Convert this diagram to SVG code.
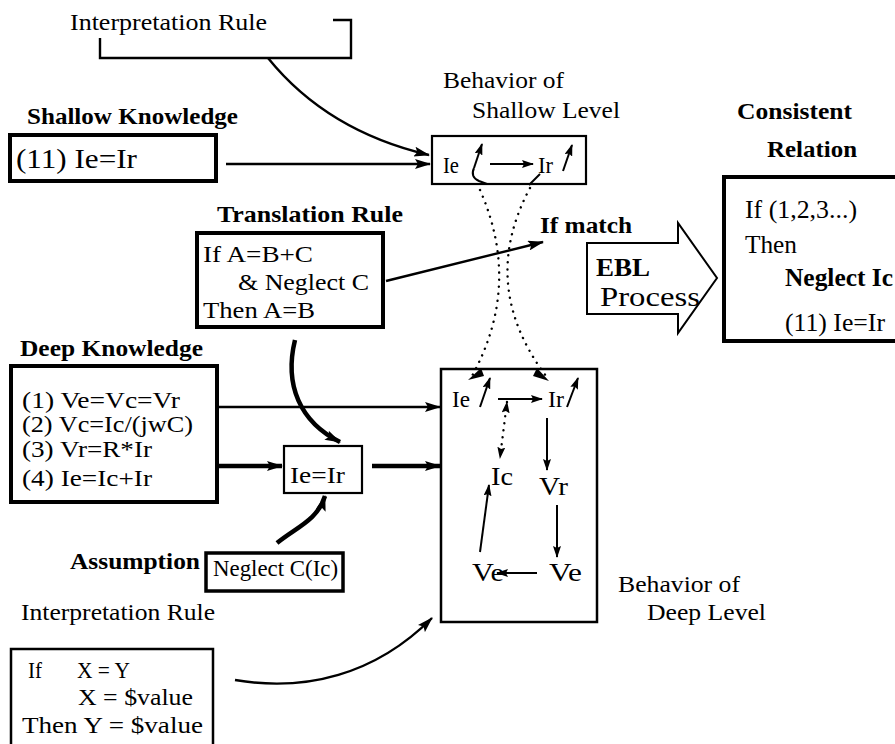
<svg xmlns="http://www.w3.org/2000/svg" width="895" height="744" viewBox="0 0 895 744">
  <style>
    text { font-family: "Liberation Serif", "Times New Roman", serif; font-size: 23px; fill: #000; }
    .b { font-weight: bold; }
    .big { font-size: 28px; }
    .mid { font-size: 26px; }
    .node { font-size: 26px; }
    .box { fill: #fff; stroke: #000; }
    .thick { stroke-width: 4; }
    .thin { stroke-width: 2.2; }
    .ln { fill: none; stroke: #000; stroke-width: 2.4; }
    .heavy { fill: none; stroke: #000; stroke-width: 4.5; }
    .sm { fill: none; stroke: #000; stroke-width: 2; }
    .dot { fill: none; stroke: #000; stroke-width: 2.4; stroke-dasharray: 0.1 7; stroke-linecap: round; }
  </style>
  <defs>
    <marker id="ah" viewBox="0 0 16 10" refX="15" refY="5" markerWidth="16" markerHeight="10" markerUnits="userSpaceOnUse" orient="auto">
      <path d="M0,0 L16,5 L0,10 L3,5 z"/>
    </marker>
    <marker id="ahs" viewBox="0 0 12 8" refX="11" refY="4" markerWidth="12" markerHeight="8" markerUnits="userSpaceOnUse" orient="auto">
      <path d="M0,0 L12,4 L0,8 L2,4 z"/>
    </marker>
    <marker id="ahs0" viewBox="0 0 12 8" refX="1" refY="4" markerWidth="12" markerHeight="8" markerUnits="userSpaceOnUse" orient="auto">
      <path d="M12,0 L0,4 L12,8 L10,4 z"/>
    </marker>
  </defs>

  <!-- upper interpretation rule with its bracket -->
  <g id="interp-top">
    <text x="70" y="30" textLength="197" lengthAdjust="spacingAndGlyphs">Interpretation Rule</text>
    <path class="ln" d="M100,38 V58 H351 V20 H333"/>
  </g>

  <g id="shallow-knowledge">
    <text class="b" x="27" y="124" textLength="211" lengthAdjust="spacingAndGlyphs">Shallow Knowledge</text>
    <rect class="box thick" x="10" y="135" width="206" height="46"/>
    <text class="big" x="16" y="168" textLength="121" lengthAdjust="spacingAndGlyphs">(11) Ie=Ir</text>
  </g>

  <g id="shallow-behavior">
    <text x="443" y="88" textLength="121" lengthAdjust="spacingAndGlyphs">Behavior of</text>
    <text x="472" y="118" textLength="148" lengthAdjust="spacingAndGlyphs">Shallow Level</text>
    <rect class="box thin" x="432" y="136" width="154" height="48"/>
    <text x="443" y="173" textLength="16" lengthAdjust="spacingAndGlyphs">Ie</text>
    <text x="538" y="173" textLength="15" lengthAdjust="spacingAndGlyphs">Ir</text>
    <path class="sm" d="M474,168 L482,144" marker-end="url(#ahs)"/>
    <path class="sm" d="M490,164 L533,164" marker-end="url(#ahs)"/>
    <path class="sm" d="M563,171 L572,145" marker-end="url(#ahs)"/>
    <path class="sm" d="M474,168 Q470,177 479,181 L487,184"/>
    <path class="sm" d="M529,185 L540,174"/>
  </g>

  <g id="translation-rule">
    <text class="b" x="217" y="222" textLength="186" lengthAdjust="spacingAndGlyphs">Translation Rule</text>
    <rect class="box thick" x="197" y="233" width="186" height="94"/>
    <text x="203" y="262" textLength="110" lengthAdjust="spacingAndGlyphs">If A=B+C</text>
    <text x="238" y="290" textLength="131" lengthAdjust="spacingAndGlyphs">&amp; Neglect C</text>
    <text x="203" y="318" textLength="112" lengthAdjust="spacingAndGlyphs">Then A=B</text>
  </g>

  <g id="if-match">
    <text class="b" x="540" y="233" textLength="92" lengthAdjust="spacingAndGlyphs">If match</text>
  </g>

  <g id="ebl-process">
    <path class="box" stroke-width="2" d="M587,243 H678 V223 L717,278 L678,333 V314 H587 Z"/>
    <text class="b mid" x="596" y="276" textLength="54" lengthAdjust="spacingAndGlyphs">EBL</text>
    <text class="big" x="600" y="306" textLength="100" lengthAdjust="spacingAndGlyphs">Process</text>
  </g>

  <g id="consistent-relation">
    <text class="b" x="737" y="119" textLength="115" lengthAdjust="spacingAndGlyphs">Consistent</text>
    <text class="b" x="767" y="157" textLength="90" lengthAdjust="spacingAndGlyphs">Relation</text>
    <rect class="box thick" x="724" y="177" width="200" height="164"/>
    <text class="mid" x="745" y="218" textLength="112" lengthAdjust="spacingAndGlyphs">If (1,2,3...)</text>
    <text class="mid" x="745" y="253" textLength="52" lengthAdjust="spacingAndGlyphs">Then</text>
    <text class="b mid" x="785" y="286" textLength="108" lengthAdjust="spacingAndGlyphs">Neglect Ic</text>
    <text class="mid" x="785" y="331" textLength="100" lengthAdjust="spacingAndGlyphs">(11) Ie=Ir</text>
  </g>

  <g id="deep-knowledge">
    <text class="b" x="20" y="356" textLength="183" lengthAdjust="spacingAndGlyphs">Deep Knowledge</text>
    <rect class="box thick" x="11" y="366" width="206" height="136"/>
    <text x="22" y="408" textLength="158" lengthAdjust="spacingAndGlyphs">(1) Ve=Vc=Vr</text>
    <text x="22" y="432" textLength="171" lengthAdjust="spacingAndGlyphs">(2) Vc=Ic/(jwC)</text>
    <text x="22" y="457" textLength="130" lengthAdjust="spacingAndGlyphs">(3) Vr=R*Ir</text>
    <text x="22" y="486" textLength="130" lengthAdjust="spacingAndGlyphs">(4) Ie=Ic+Ir</text>
  </g>

  <g id="derived-relation">
    <rect class="box thin" x="284" y="446" width="78" height="47"/>
    <text x="290" y="483" textLength="55" lengthAdjust="spacingAndGlyphs">Ie=Ir</text>
  </g>

  <g id="assumption">
    <text class="b" x="70" y="569" textLength="130" lengthAdjust="spacingAndGlyphs">Assumption</text>
    <rect class="box" stroke-width="3.5" x="206" y="553" width="137" height="38"/>
    <text x="213" y="576" textLength="125" lengthAdjust="spacingAndGlyphs">Neglect C(Ic)</text>
  </g>

  <g id="interp-bottom">
    <text x="21" y="620" textLength="194" lengthAdjust="spacingAndGlyphs">Interpretation Rule</text>
    <path class="box" stroke-width="2.5" d="M11,760 V649 H213 V760"/>
    <text x="28" y="678" textLength="14" lengthAdjust="spacingAndGlyphs">If</text>
    <text x="77" y="678" textLength="53" lengthAdjust="spacingAndGlyphs">X = Y</text>
    <text x="78" y="705" textLength="115" lengthAdjust="spacingAndGlyphs">X = $value</text>
    <text x="22" y="733" textLength="181" lengthAdjust="spacingAndGlyphs">Then Y = $value</text>
  </g>

  <g id="deep-behavior">
    <rect class="box" stroke-width="2.5" x="441" y="369" width="156" height="253"/>
    <text x="452" y="407" textLength="18" lengthAdjust="spacingAndGlyphs">Ie</text>
    <text x="548" y="407" textLength="16" lengthAdjust="spacingAndGlyphs">Ir</text>
    <text class="node" x="491" y="485" textLength="22" lengthAdjust="spacingAndGlyphs">Ic</text>
    <text class="node" x="539" y="495" textLength="29" lengthAdjust="spacingAndGlyphs">Vr</text>
    <text class="node" x="549" y="581" textLength="33" lengthAdjust="spacingAndGlyphs">Ve</text>
    <text class="node" x="472" y="581" textLength="32" lengthAdjust="spacingAndGlyphs">Ve</text>
    <text x="618" y="592" textLength="122" lengthAdjust="spacingAndGlyphs">Behavior of</text>
    <text x="647" y="620" textLength="119" lengthAdjust="spacingAndGlyphs">Deep Level</text>
  </g>

  <g id="connectors">
    <!-- rule and knowledge inputs -->
    <path class="ln" d="M268,58 C310,110 365,140 429,155" marker-end="url(#ah)"/>
    <path class="ln" d="M226,164 L430,164" marker-end="url(#ah)"/>
    <path class="ln" d="M386,281 L543,242" marker-end="url(#ah)"/>
    <path class="ln" d="M218,407 L440,407" marker-end="url(#ah)"/>
    <path class="heavy" d="M218,466 L282,466" marker-end="url(#ah)"/>
    <path class="heavy" d="M372,466 L440,466" marker-end="url(#ah)"/>
    <path class="heavy" d="M295,340 C284,385 300,422 340,442" marker-end="url(#ah)"/>
    <path class="heavy" d="M277,543 C295,528 318,520 325,496" marker-end="url(#ah)"/>
    <path class="ln" d="M235,680 C305,692 375,675 432,618" marker-end="url(#ah)"/>
    <!-- correspondence between the two levels -->
    <path class="dot" d="M480,190 Q522,285 472,376"/>
    <path class="dot" d="M530,188 Q478,285 546,376"/>
    <path d="M481,368 L468,380 L484,376 Z"/>
    <path d="M537,368 L549,381 L533,376 Z"/>
    <!-- deep-level causal chain -->
    <path class="sm" d="M480,407 L490,378" marker-end="url(#ahs)"/>
    <path class="sm" d="M498,399 L542,399" marker-end="url(#ahs)"/>
    <path class="sm" d="M567,407 L578,378" marker-end="url(#ahs)"/>
    <path class="dot" stroke-width="2.2" d="M507,402 L500,458" marker-start="url(#ahs0)" marker-end="url(#ahs)"/>
    <path class="sm" d="M547,418 L547,470" marker-end="url(#ahs)"/>
    <path class="sm" d="M557,505 L557,557" marker-end="url(#ahs)"/>
    <path class="sm" d="M537,573 L497,573" marker-end="url(#ahs)"/>
    <path class="sm" d="M480,552 L489,485" marker-end="url(#ahs)"/>
  </g>
</svg>
